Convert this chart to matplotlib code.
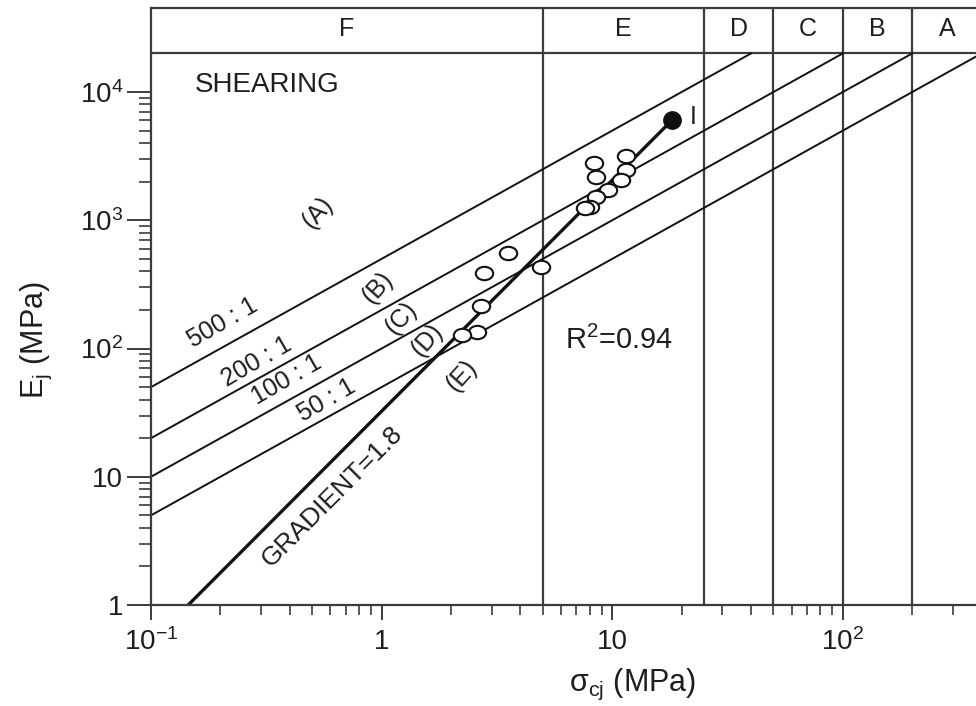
import matplotlib
matplotlib.use("Agg")
from matplotlib import pyplot as plt
from matplotlib.path import Path
from matplotlib.ticker import FixedLocator, FuncFormatter, NullFormatter
import numpy as np

plt.rcParams["font.family"] = ["Liberation Sans", "DejaVu Sans"]
plt.rcParams["mathtext.fontset"] = "custom"
plt.rcParams["mathtext.rm"] = "Liberation Sans"
plt.rcParams["mathtext.it"] = "Liberation Sans:italic"

# data
sigma_open = [11.5, 8.3, 8.5, 11.5, 10.9, 9.6, 8.5, 8.0, 7.6, 3.54, 2.77, 4.92, 2.70, 2.60, 2.23]
E_open = [3170, 2790, 2170, 2470, 2060, 1720, 1520, 1270, 1250, 555, 388, 432, 214, 135, 127]
sigma_filled = [18.2]
E_filled = [6050]
grad_sigma = [0.145, 18.2]
grad_E = [1, 6050]

ratios = [500, 200, 100, 50]
ratio_labels = ["500 : 1", "200 : 1", "100 : 1", "50 : 1"]
ratio_label_pos = [(0.205, 158), (0.288, 78.5), (0.389, 56.8), (0.58, 39.7)]

zone_edges = [0.1, 5, 25, 50, 100, 200, 400]
zone_names = ["F", "E", "D", "C", "B", "A"]
band_E = 2.0e4

class_names = ["(A)", "(B)", "(C)", "(D)", "(E)"]
class_pos = [(0.53, 1140), (0.964, 296), (1.22, 173), (1.57, 116), (2.23, 62)]

x_major = [0.1, 1, 10, 100]
y_major = [1, 10, 100, 1000, 10000]

xmin, xmax = 0.1, 378
ymin, ymax = 1, 45200

fig = plt.figure(figsize=(9.76, 7.06), dpi=100)
ax = fig.add_axes([151 / 976, 1 - 605 / 706, 1 - 151 / 976, (605 - 8) / 706])
ax.set_xscale("log")
ax.set_yscale("log")
ax.set_xlim(xmin, xmax)
ax.set_ylim(ymin, ymax)

grey = "#3c3c3c"
ink = "#1e1e1e"
for side in ["left", "bottom", "top"]:
    ax.spines[side].set_color(grey)
    ax.spines[side].set_linewidth(1.6)
ax.spines["right"].set_visible(False)

# zone boundaries and the top band
for x in zone_edges[1:-1]:
    ax.plot([x, x], [ymin, ymax], color=grey, lw=1.6)
ax.plot([xmin, xmax], [band_E, band_E], color=grey, lw=1.6)
for i, name in enumerate(zone_names):
    lo, hi = zone_edges[i], zone_edges[i + 1]
    ax.text((lo * hi) ** 0.5, 3.1e4, name, ha="center", va="center", fontsize=18, color=ink)

# modulus ratio lines
for r, lab, (lx, ly) in zip(ratios, ratio_labels, ratio_label_pos):
    ax.plot([xmin, band_E / r], [r * xmin, band_E], color="#111111", lw=1.4)
    ax.text(lx, ly, lab, rotation=30, ha="center", va="center", fontsize=18, color=ink)

for name, (cx, cy) in zip(class_names, class_pos):
    ax.text(cx, cy, name, rotation=48, ha="center", va="center", fontsize=18, color=ink)

# slightly flattened circles, like the scanned markers
circ = Path.unit_circle()
ellipse = Path(circ.vertices * np.array([1.3, 1.0]), circ.codes)

# gradient line and joints
ax.plot(grad_sigma, grad_E, color="#111111", lw=2.4)
ax.plot(sigma_open, E_open, marker=ellipse, ms=12.5, mfc="white", mec="#111111", mew=1.5, ls="none")
ax.plot(sigma_filled, E_filled, "o", ms=12.5, color="#111111", ls="none")
ax.text(21.7, 6380, "I", ha="left", va="center", fontsize=18, color=ink)

ax.text(0.609, 6.95, "GRADIENT=1.8", rotation=45, ha="center", va="center", fontsize=19, color=ink)
ax.text(0.155, 11350, "SHEARING", ha="left", va="center", fontsize=20, color=ink)
ax.text(6.23, 116, r"R$^\mathregular{2}$=0.94", ha="left", va="center", fontsize=21, color=ink)


def logfmt(v, pos):
    e = int(round(np.log10(v)))
    if e == 0:
        return "1"
    if e == 1:
        return "10"
    return r"$\mathregular{10^{%d}}$" % e


def minors(lo_exp, hi_exp):
    return [m * 10.0 ** e for e in range(lo_exp, hi_exp) for m in range(2, 10)]


ax.xaxis.set_major_locator(FixedLocator(x_major))
ax.yaxis.set_major_locator(FixedLocator(y_major))
ax.xaxis.set_major_formatter(FuncFormatter(logfmt))
ax.yaxis.set_major_formatter(FuncFormatter(logfmt))
ax.xaxis.set_minor_locator(FixedLocator([v for v in minors(-1, 3) if v < xmax]))
ax.yaxis.set_minor_locator(FixedLocator(minors(0, 4)))
ax.xaxis.set_minor_formatter(NullFormatter())
ax.yaxis.set_minor_formatter(NullFormatter())
ax.tick_params(axis="x", which="major", direction="out", length=11, width=1.4, color=grey,
               labelsize=20, labelcolor=ink, pad=6)
ax.tick_params(axis="x", which="minor", direction="out", length=7, width=1.2, color=grey)
ax.tick_params(axis="y", which="major", direction="out", length=17, width=1.4, color=grey,
               labelsize=20, labelcolor=ink, pad=3)
ax.tick_params(axis="y", which="minor", direction="out", length=9, width=1.2, color=grey)

ax.set_xlabel(r"σ$_\mathregular{cj}$ (MPa)", fontsize=22, color=ink)
ax.set_ylabel(r"$\mathregular{E_j}$ (MPa)", fontsize=22, color=ink)
ax.xaxis.set_label_coords(0.584, -0.103)
ax.yaxis.set_label_coords(-0.118, 0.444)

fig.savefig("out.png", dpi=100)
